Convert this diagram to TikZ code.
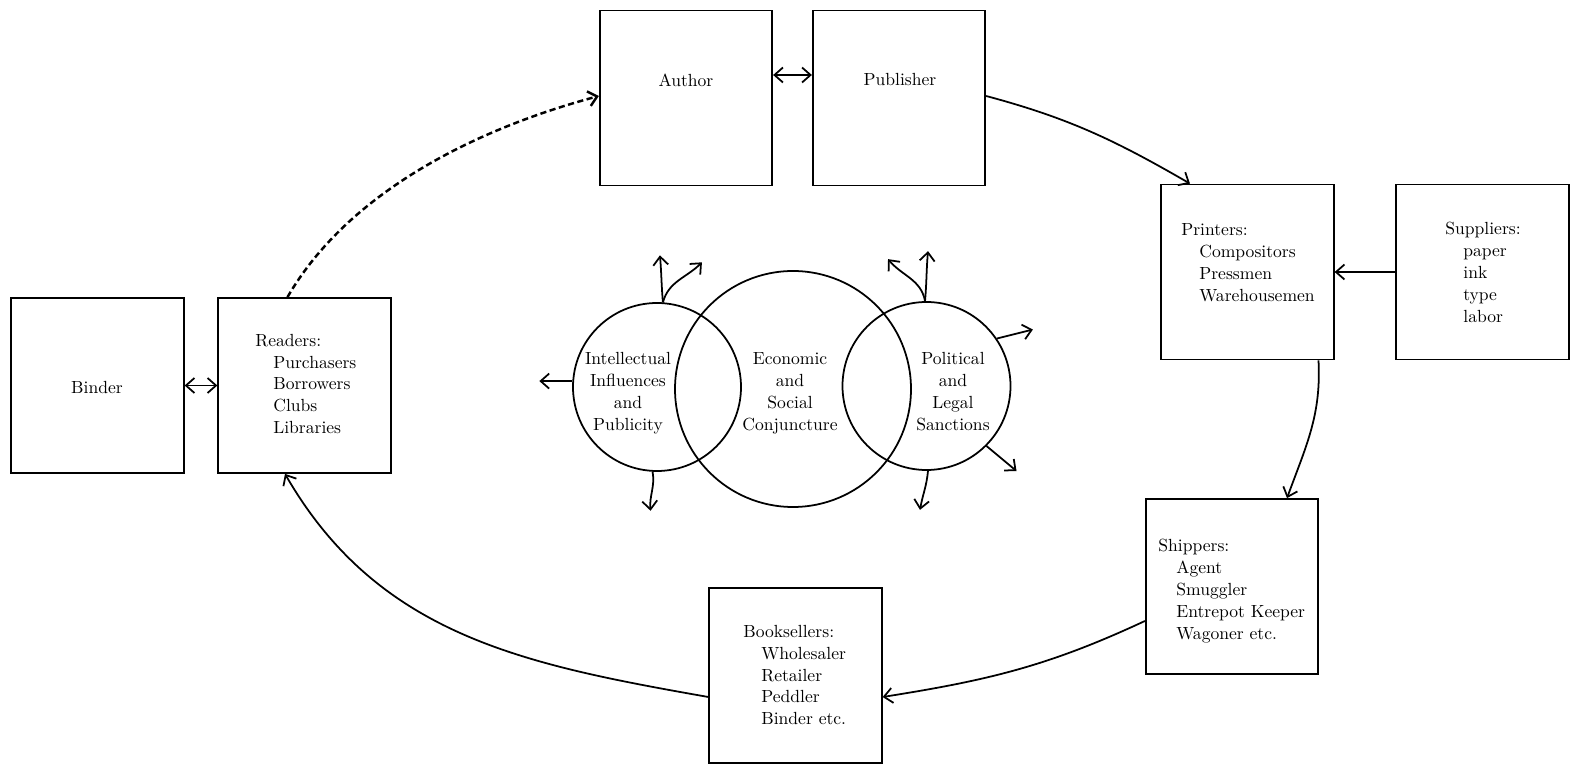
\documentclass[tikz,border=0pt]{standalone}
\usepackage{tikz}
\usetikzlibrary{arrows.meta}
\tikzset{
    >={Straight Barb[length=1.7mm,width=3mm]},
    box/.style={draw, line width=1pt, minimum width=3.45cm, minimum height=3.5cm},
    ring/.style={draw, circle, line width=1pt, inner sep=0pt},
    link/.style={line width=1pt},
    txt/.style={align=left, inner sep=0pt, font=\fontsize{10}{12.5}\selectfont},
    ctxt/.style={align=center, inner sep=0pt, font=\fontsize{10}{12.5}\selectfont},
}
\newcommand{\itemind}{\hspace*{0.36cm}}

\begin{document}
\begin{tikzpicture}
    \useasboundingbox (0,0) rectangle (31.4,-15.28);
    % boxes
    \node[box] (author) at (13.72,-1.96) {};
    \node[box] (publisher) at (17.98,-1.96) {};
    \node[box] (binder) at (1.95,-7.71) {};
    \node[box] (readers) at (6.09,-7.71) {};
    \node[box] (printers) at (24.95,-5.44) {};
    \node[box] (suppliers) at (29.65,-5.44) {};
    \node[box] (shippers) at (24.64,-11.73) {};
    \node[box] (booksellers) at (15.91,-13.51) {};
    % box texts
    \node[txt] (authorlbl) at (13.72,-1.60) {Author};
    \node[txt] (publisherlbl) at (18.00,-1.60) {Publisher};
    \node[txt] (binderlbl) at (1.94,-7.76) {Binder};
    \node[txt, anchor=west] (readerslbl) at (5.10,-7.68) {Readers:\\ \itemind Purchasers\\ \itemind Borrowers\\ \itemind Clubs\\ \itemind Libraries};
    \node[txt, anchor=west] (printerslbl) at (23.62,-5.26) {Printers:\\ \itemind Compositors\\ \itemind Pressmen\\ \itemind Warehousemen};
    \node[txt, anchor=west] (supplierslbl) at (28.90,-5.45) {Suppliers:\\ \itemind paper\\ \itemind ink\\ \itemind type\\ \itemind labor};
    \node[txt, anchor=west] (shipperslbl) at (23.16,-11.82) {Shippers:\\ \itemind Agent\\ \itemind Smuggler\\ \itemind Entrepot Keeper\\ \itemind Wagoner etc.};
    \node[txt, anchor=west] (bookssellerslbl) at (14.86,-13.50) {Booksellers:\\ \itemind Wholesaler\\ \itemind Retailer\\ \itemind Peddler\\ \itemind Binder etc.};
    % circles
    \node[ring, minimum size=3.36cm] (intellectual) at (13.14,-7.74) {};
    \node[ring, minimum size=4.72cm] (economic) at (15.86,-7.78) {};
    \node[ring, minimum size=3.36cm] (political) at (18.53,-7.72) {};
    \node[ctxt] (intellectuallbl) at (12.56,-7.86) {Intellectual\\ Influences\\ and\\ Publicity};
    \node[ctxt] (economiclbl) at (15.80,-7.86) {Economic\\ and\\ Social\\ Conjuncture};
    \node[ctxt] (politicallbl) at (19.06,-7.83) {Political\\ and\\ Legal\\ Sanctions};
    % the circuit
    \draw[link,<->] ([yshift=0.46cm]author.east) -- ([yshift=0.46cm]publisher.west);
    \draw[link,<->] (binder) -- (readers);
    \draw[link,->,line width=1.4pt,dash pattern=on 3.5pt off 2pt] ([xshift=-0.34cm]readers.north) to[out=60,in=195,looseness=0.85] ([yshift=0.04cm]author.west);
    \draw[link,->] ([yshift=0.04cm]publisher.east) to[out=-15,in=150] ([xshift=-1.15cm]printers.north);
    \draw[link,->] (suppliers.west) -- (printers.east);
    \draw[link,->] ([xshift=1.42cm]printers.south) to[out=-87,in=70] ([xshift=1.10cm]shippers.north);
    \draw[link,->] ([yshift=-0.69cm]shippers.west) to[out=205,in=9] ([yshift=-0.43cm]booksellers.east);
    \draw[link,->] ([yshift=-0.43cm]booksellers.west) to[out=170,in=-60] ([xshift=-0.39cm]readers.south);
    % influences
    \draw[link,->] (intellectual.176) -- ++(-0.66,0);
    \draw[link,->] (intellectual.86) to[out=95,in=-85] ++(-0.06,0.94);
    \draw[link,->] (intellectual.86) to[out=75,in=225] ++(0.78,0.80);
    \draw[link,->] (intellectual.267) to[out=-80,in=95] ++(-0.04,-0.78);
    \draw[link,->] (political.91) to[out=85,in=-95] ++(0.06,1.0);
    \draw[link,->] (political.91) to[out=100,in=-50] ++(-0.74,0.84);
    \draw[link,->] (political.34) -- ++(0.72,0.18);
    \draw[link,->] (political.-45) -- ++(0.60,-0.50);
    \draw[link,->] (political.-89) to[out=-95,in=80] ++(-0.16,-0.78);
\end{tikzpicture}
\end{document}
